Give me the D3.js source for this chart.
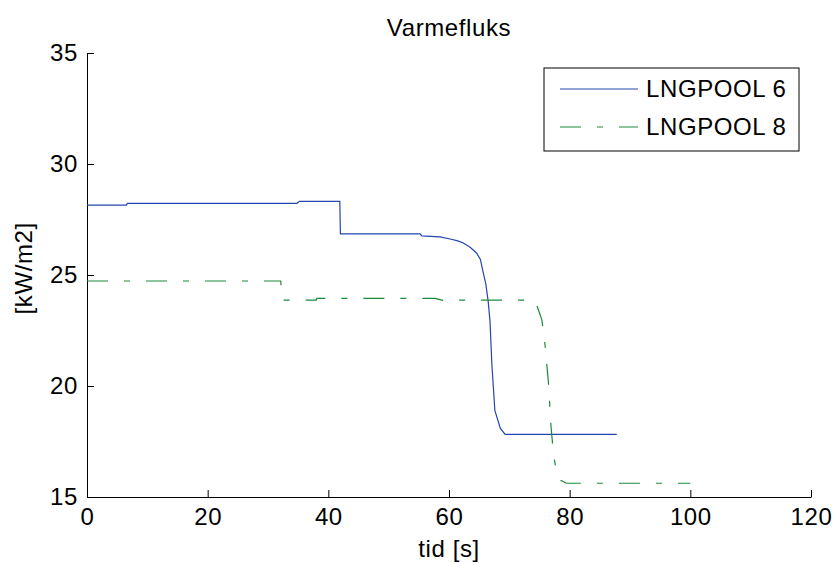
<!DOCTYPE html>
<html>
<head>
<meta charset="utf-8">
<script src="https://cdn.jsdelivr.net/npm/d3@7"></script>
<style>
body { margin: 0; background: #fff; }
svg text { font-family: "Liberation Sans", Arial, sans-serif; fill: #000; letter-spacing: 0.6px; }
</style>
</head>
<body>
<svg id="chart"></svg>
<script>
// LNGPOOL 6 (blå, heltrukken)
var pool6_t = [0, 6.5, 6.7, 34.8, 35.2, 41.9, 42, 55.2, 55.5, 58.5, 60.2, 61.3, 62.3, 63.5, 64.6, 65.2, 65.6, 66.1, 66.5, 66.8, 67.1, 67.6, 68.5, 69.3, 87.8];
var pool6_q = [28.15, 28.15, 28.23, 28.23, 28.32, 28.32, 26.85, 26.85, 26.76, 26.72, 26.62, 26.55, 26.45, 26.25, 25.98, 25.7, 25.2, 24.6, 23.8, 22.9, 21.0, 18.9, 18.1, 17.82, 17.82];
// LNGPOOL 8 (grønn, strek-prikk)
var pool8_t = [0, 32.1, 32.4, 38, 38.1, 57.7, 58.8, 73.4, 74.3, 74.6, 75.4, 75.9, 76.5, 76.9, 77.3, 77.8, 78.5, 79.5, 100];
var pool8_q = [24.73, 24.73, 23.87, 23.87, 23.95, 23.95, 23.87, 23.87, 23.8, 23.6, 22.97, 21.9, 20.1, 18.2, 17.0, 16.1, 15.75, 15.62, 15.62];

var seriesNames = ["LNGPOOL 6", "LNGPOOL 8"];
var xTicks = [0, 20, 40, 60, 80, 100, 120];
var yTicks = [15, 20, 25, 30, 35];

var width = 835, height = 563;
var margin = {top: 53, right: 24, bottom: 66, left: 87};

var svg = d3.select("#chart").attr("width", width).attr("height", height);

var x = d3.scaleLinear().domain([0, 120]).range([margin.left, width - margin.right]);
var y = d3.scaleLinear().domain([15, 35]).range([height - margin.bottom, margin.top]);

var fs = 24;

// akser
var xAxis = svg.append("g")
    .attr("transform", "translate(0," + (height - margin.bottom) + ")")
    .call(d3.axisBottom(x).tickValues(xTicks).tickSizeInner(-7).tickSizeOuter(0).tickPadding(11));
var yAxis = svg.append("g")
    .attr("transform", "translate(" + margin.left + ",0)")
    .call(d3.axisLeft(y).tickValues(yTicks).tickSizeInner(-7).tickSizeOuter(0).tickPadding(9));

[xAxis, yAxis].forEach(function(a){
  a.select(".domain").attr("stroke", "#000").attr("stroke-width", 1);
  a.selectAll(".tick line").attr("stroke", "#000");
  a.selectAll(".tick text").attr("font-size", fs).attr("font-family", null);
});

var line = d3.line()
    .x(function(d){ return x(d[0]); })
    .y(function(d){ return y(d[1]); });

var data6 = pool6_t.map(function(t, i){ return [t, pool6_q[i]]; });
var data8 = pool8_t.map(function(t, i){ return [t, pool8_q[i]]; });

var colors = ["#2546b0", "#1a8a3a"];
var dashes = [null, "21,16,6,16"];

svg.append("path").datum(data6)
    .attr("d", line).attr("fill", "none")
    .attr("stroke", colors[0]).attr("stroke-width", 1.2);
svg.append("path").datum(data8)
    .attr("d", line).attr("fill", "none")
    .attr("stroke", colors[1]).attr("stroke-width", 1.2)
    .attr("stroke-dasharray", dashes[1]);

// tittel og aksetitler
svg.append("text").attr("x", (margin.left + width - margin.right) / 2).attr("y", 36)
    .attr("text-anchor", "middle").attr("font-size", fs).text("Varmefluks");
svg.append("text").attr("x", (margin.left + width - margin.right) / 2).attr("y", 557)
    .attr("text-anchor", "middle").attr("font-size", fs).text("tid [s]");
svg.append("text").attr("transform", "translate(32," + y(25.3) + ") rotate(-90)")
    .attr("text-anchor", "middle").attr("font-size", fs).text("[kW/m2]");

// legend
var legend = svg.append("g").attr("transform", "translate(544,68)");
legend.append("rect").attr("width", 255).attr("height", 83)
    .attr("fill", "#fff").attr("stroke", "#000").attr("stroke-width", 1);
seriesNames.forEach(function(name, i){
  var ly = 21 + i * 38;
  legend.append("line").attr("x1", 16).attr("x2", 94).attr("y1", ly).attr("y2", ly)
      .attr("stroke", colors[i]).attr("stroke-width", 1.2)
      .attr("stroke-dasharray", dashes[i]);
  legend.append("text").attr("x", 102).attr("y", ly + 8).attr("font-size", fs).text(name);
});
</script>
</body>
</html>
